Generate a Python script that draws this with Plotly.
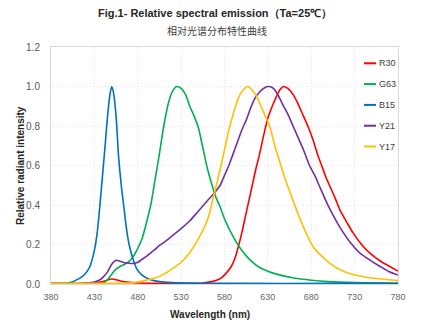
import plotly.graph_objects as go

# ---- data ----
names = ["R30", "G63", "B15", "Y21", "Y17"]
colors = ["#FF0000", "#00B050", "#0070C0", "#7030A0", "#FFC000"]

r30_x = [380, 430, 440, 445, 450, 455, 460, 470, 480, 500, 540, 555, 565, 570, 576, 582, 588, 592, 596, 600, 604, 608, 612, 616, 620, 625, 630, 635, 640, 644, 648, 653, 659, 665, 671, 677, 682, 687, 692, 697, 702, 708, 713, 720, 728, 738, 748, 760, 770, 780]
r30_y = [0.003, 0.005, 0.012, 0.02, 0.025, 0.022, 0.015, 0.008, 0.005, 0.004, 0.003, 0.005, 0.012, 0.018, 0.03, 0.055, 0.09, 0.13, 0.19, 0.26, 0.34, 0.42, 0.5, 0.58, 0.65, 0.75, 0.84, 0.9, 0.95, 0.985, 1.0, 0.99, 0.96, 0.91, 0.85, 0.79, 0.73, 0.66, 0.6, 0.54, 0.49, 0.43, 0.375, 0.32, 0.26, 0.2, 0.155, 0.115, 0.09, 0.065]

g63_x = [380, 420, 440, 445, 450, 455, 460, 465, 470, 475, 480, 485, 490, 495, 500, 505, 510, 515, 520, 525, 530, 535, 540, 545, 550, 555, 560, 565, 570, 575, 580, 590, 600, 610, 620, 630, 640, 660, 680, 700, 730, 780]
g63_y = [0.002, 0.002, 0.005, 0.02, 0.05, 0.075, 0.09, 0.1, 0.115, 0.14, 0.18, 0.23, 0.31, 0.4, 0.53, 0.66, 0.8, 0.91, 0.975, 1.0, 0.99, 0.96, 0.9, 0.85, 0.79, 0.69, 0.59, 0.51, 0.44, 0.39, 0.33, 0.24, 0.17, 0.12, 0.085, 0.065, 0.05, 0.03, 0.019, 0.012, 0.007, 0.003]

b15_x = [380, 390, 400, 405, 410, 415, 420, 425, 430, 433, 436, 439, 442, 445, 448, 450, 452, 455, 458, 461, 464, 467, 470, 475, 479, 485, 494, 505, 520, 550, 600, 700, 780]
b15_y = [0.002, 0.003, 0.006, 0.012, 0.022, 0.035, 0.055, 0.09, 0.17, 0.25, 0.38, 0.53, 0.68, 0.84, 0.96, 1.0, 0.97, 0.85, 0.64, 0.5, 0.39, 0.28, 0.2, 0.12, 0.075, 0.045, 0.023, 0.012, 0.007, 0.004, 0.003, 0.003, 0.004]

y21_x = [380, 400, 420, 430, 436, 440, 445, 450, 455, 460, 465, 470, 475, 480, 485, 490, 495, 500, 505, 510, 520, 530, 540, 550, 560, 570, 575, 580, 585, 590, 595, 600, 605, 610, 615, 620, 625, 630, 635, 640, 647, 653, 659, 665, 671, 678, 684, 690, 696, 702, 710, 717, 725, 736, 748, 759, 770, 780]
y21_y = [0.0, 0.001, 0.005, 0.01, 0.02, 0.035, 0.06, 0.1, 0.12, 0.115, 0.108, 0.105, 0.104, 0.11, 0.125, 0.14, 0.158, 0.175, 0.195, 0.21, 0.245, 0.28, 0.32, 0.37, 0.42, 0.47, 0.5, 0.55, 0.6, 0.66, 0.72, 0.78, 0.83, 0.89, 0.94, 0.97, 0.99, 1.0, 0.995, 0.97, 0.91, 0.86, 0.8, 0.74, 0.68, 0.6, 0.55, 0.49, 0.43, 0.375, 0.31, 0.26, 0.21, 0.157, 0.12, 0.09, 0.062, 0.045]

y17_x = [380, 440, 470, 480, 490, 500, 510, 520, 530, 540, 550, 560, 565, 570, 575, 580, 585, 590, 595, 600, 607, 612, 617, 622, 627, 632, 638, 645, 650, 655, 660, 667, 675, 682, 690, 700, 710, 720, 730, 750, 780]
y17_y = [0.003, 0.003, 0.005, 0.01, 0.02, 0.03, 0.05, 0.078, 0.11, 0.16, 0.23, 0.32, 0.4, 0.49, 0.58, 0.68, 0.78, 0.86, 0.93, 0.975, 1.0, 0.98, 0.95, 0.9, 0.85, 0.8, 0.7, 0.6, 0.53, 0.47, 0.41, 0.33, 0.25, 0.19, 0.15, 0.11, 0.08, 0.06, 0.046, 0.03, 0.017]

series_x = [r30_x, g63_x, b15_x, y21_x, y17_x]
series_y = [r30_y, g63_y, b15_y, y21_y, y17_y]

x_ticks = [380, 430, 480, 530, 580, 630, 680, 730, 780]
y_ticks = [0.0, 0.2, 0.4, 0.6, 0.8, 1.0, 1.2]

title_text = "<b>Fig.1- Relative spectral emission（Ta=25℃）</b>"
subtitle_text = "相对光谱分布特性曲线"
x_title = "<b>Wavelength (nm)</b>"
y_title = "<b>Relative radiant intensity</b>"

# ---- figure ----
fig = go.Figure()
for n, c, xs, ys in zip(names, colors, series_x, series_y):
    fig.add_trace(go.Scatter(x=xs, y=ys, name=n, mode="lines",
                             line=dict(color=c, width=1.6, shape="spline", smoothing=0.8),
                             showlegend=False))

W, H = 439, 329
ml, mr, mt, mb = 51, 41, 47, 45
fig.update_layout(
    width=W, height=H,
    margin=dict(l=ml, r=mr, t=mt, b=mb),
    paper_bgcolor="white", plot_bgcolor="white",
    font=dict(family="Liberation Sans, Arial, sans-serif", size=9, color="#595959"),
    showlegend=False,
)
fig.update_xaxes(range=[380, 780], tickvals=x_ticks, ticktext=[str(v) for v in x_ticks],
                 showgrid=True, gridcolor="#E3E3E3", griddash="1px,2px", gridwidth=1,
                 showline=True, linecolor="#D9D9D9", linewidth=1, mirror=True,
                 zeroline=False, ticks="", ticklabelstandoff=4,
                 tickfont=dict(size=9, color="#666666"))
fig.update_yaxes(range=[0, 1.2], tickvals=y_ticks, ticktext=[f"{v:.1f}" for v in y_ticks],
                 showgrid=True, gridcolor="#E3E3E3", griddash="1px,2px", gridwidth=1,
                 showline=True, linecolor="#D9D9D9", linewidth=1, mirror=True,
                 zeroline=False, ticks="", ticklabelstandoff=8,
                 tickfont=dict(size=10, color="#595959"))

def px2paper_x(px):
    return (px - ml) / (W - ml - mr)

def px2paper_y(py):
    return (H - mb - py) / (H - mt - mb)

# titles
fig.add_annotation(text=title_text, x=px2paper_x(215), y=px2paper_y(14), xref="paper", yref="paper",
                   showarrow=False, font=dict(size=11, color="#262626"), xanchor="center", yanchor="middle")
fig.add_annotation(text=subtitle_text, x=px2paper_x(217), y=px2paper_y(31), xref="paper", yref="paper",
                   showarrow=False, font=dict(size=10, color="#404040", family="Noto Sans CJK SC"),
                   xanchor="center", yanchor="middle")
fig.add_annotation(text=x_title, x=px2paper_x(210), y=px2paper_y(314), xref="paper", yref="paper",
                   showarrow=False, font=dict(size=10, color="#262626"), xanchor="center", yanchor="middle")
fig.add_annotation(text=y_title, x=px2paper_x(20), y=px2paper_y(166), xref="paper", yref="paper",
                   showarrow=False, font=dict(size=10, color="#262626"), textangle=-90,
                   xanchor="center", yanchor="middle")

# legend (drawn manually)
leg_y0, leg_dy = 63.3, 20.8
for i, (n, c) in enumerate(zip(names, colors)):
    py = leg_y0 + i * leg_dy
    fig.add_shape(type="line", xref="paper", yref="paper",
                  x0=px2paper_x(364), x1=px2paper_x(376), y0=px2paper_y(py), y1=px2paper_y(py),
                  line=dict(color=c, width=2))
    fig.add_annotation(text=n, x=px2paper_x(377), y=px2paper_y(py), xref="paper", yref="paper",
                       showarrow=False, xanchor="left", yanchor="middle",
                       font=dict(size=9, color="#404040"))

fig.write_html("out.html")
